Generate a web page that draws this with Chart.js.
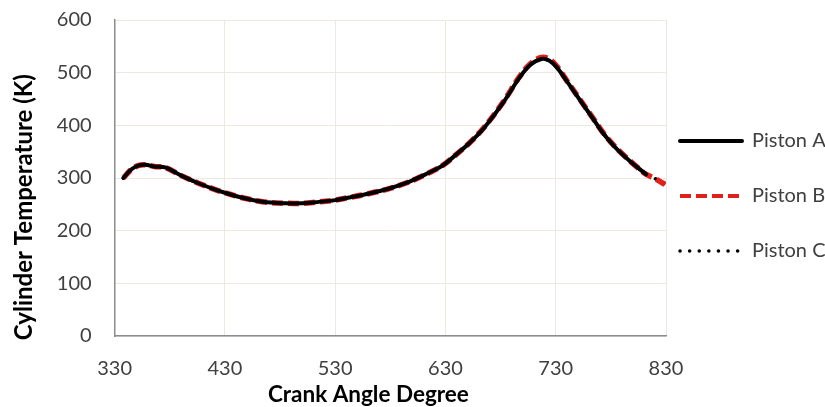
<!DOCTYPE html>
<html>
<head>
<meta charset="utf-8">
<script src="https://cdn.jsdelivr.net/npm/chart.js@4"></script>
<style>
  html, body { margin: 0; padding: 0; background: #ffffff; }
  #wrap { width: 825px; height: 407px; position: relative; }
</style>
</head>
<body>
<div id="wrap"><canvas id="c" width="825" height="407"></canvas></div>
<script>
// Crank angle (degrees)
const crankAngle = [338, 345, 352, 358, 366, 376, 390, 406, 420, 430, 445, 464, 485, 500, 512, 530, 543, 560, 579, 595, 609, 620, 629, 640, 652, 665, 682, 697, 707, 717, 724, 731, 740, 752, 763, 773, 784, 794, 803, 812, 820, 829];
// Cylinder temperature (K)
const pistonA = [300, 316, 324, 325, 322, 320, 305, 290, 279, 272, 263, 255, 252, 252, 254, 258, 263, 270, 280, 291, 304, 315, 326, 345, 367, 395, 442, 490, 515, 526, 523, 510, 484, 448, 415, 385, 358, 338, 322, 307, null, null];
const pistonB = [300, 316, 324, 325, 322, 320, 305, 290, 279, 272, 263, 255, 252, 252, 254, 258, 263, 270, 280, 291, 304, 315, 326, 345, 367, 396, 443, 492, 517, 529, 526, 512, 485, 449, 416, 386, 359, 339, 322, 307, 299, 288];
const pistonC = [300, 316, 324, 325, 322, 320, 305, 290, 279, 272, 263, 255, 252, 252, 254, 258, 263, 270, 280, 291, 304, 315, 326, 345, 367, 395, 442, 490, 515, 526, 523, 510, 484, 448, 415, 385, 358, 338, 322, 307, 299, 288];
const seriesNames = ['Piston A', 'Piston B', 'Piston C'];
const xTicks = [330, 430, 530, 630, 730, 830];
const yTicks = [0, 100, 200, 300, 400, 500, 600];
const xTitle = 'Crank Angle Degree';
const yTitle = 'Cylinder Temperature (K)';

function toXY(values) {
  const out = [];
  for (let i = 0; i < crankAngle.length; i++) {
    if (values[i] !== null) out.push({ x: crankAngle[i], y: values[i] });
  }
  return out;
}

const FONT = 'Lato, "Open Sans", "DejaVu Sans", sans-serif';

// nudges the legend block so its samples start just right of the plot area
const legendNudge = {
  id: 'legendNudge',
  afterLayout(chart) {
    const lg = chart.legend;
    if (!lg) return;
    lg.left -= 21;
    lg.top -= 15;
  }
};

new Chart(document.getElementById('c'), {
  type: 'line',
  data: {
    datasets: [
      {
        label: seriesNames[0],
        data: toXY(pistonA),
        borderColor: '#000000',
        backgroundColor: '#000000',
        borderWidth: 4,
        borderCapStyle: 'round',
        pointRadius: 0,
        tension: 0.35,
        fill: false
      },
      {
        label: seriesNames[1],
        data: toXY(pistonB),
        borderColor: '#e0201b',
        backgroundColor: '#ffffff',
        borderWidth: 5.5,
        borderDash: [11, 5],
        borderCapStyle: 'butt',
        pointRadius: 0,
        tension: 0.35,
        fill: false
      },
      {
        label: seriesNames[2],
        data: toXY(pistonC),
        borderColor: '#000000',
        backgroundColor: '#000000',
        borderWidth: 3.5,
        borderDash: [0.1, 9.5],
        borderCapStyle: 'round',
        pointRadius: 0,
        tension: 0.35,
        fill: false
      }
    ]
  },
  options: {
    responsive: false,
    animation: false,
    layout: { padding: { left: 0, right: 0, top: 0, bottom: 0 } },
    plugins: {
      tooltip: { enabled: false },
      legend: {
        position: 'right',
        align: 'center',
        maxWidth: 159,
        labels: {
          font: { family: FONT, size: 20 },
          color: '#404040',
          usePointStyle: true,
          pointStyle: 'line',
          pointStyleWidth: 62,
          padding: 35,
          generateLabels: (chart) => {
            const items = Chart.defaults.plugins.legend.labels.generateLabels(chart);
            items.forEach((it) => {
              const ds = chart.data.datasets[it.datasetIndex];
              it.pointStyle = 'line';
              it.strokeStyle = ds.borderColor;
              it.fillStyle = ds.borderColor;
              it.lineWidth = it.datasetIndex === 1 ? 4 : ds.borderWidth;
              it.lineDash = ds.borderDash || [];
              it.lineCap = ds.borderCapStyle;
            });
            return items;
          }
        }
      }
    },
    scales: {
      x: {
        type: 'linear',
        min: 330,
        max: 830,
        afterBuildTicks: (axis) => { axis.ticks = xTicks.map(v => ({ value: v })); },
        grid: { color: '#ede9e0', lineWidth: 1, drawTicks: true, tickLength: 16, tickColor: 'rgba(0,0,0,0)' },
        border: { color: '#8c8c8c', width: 1.5 },
        ticks: {
          font: { family: FONT, size: 20, lineHeight: 1 },
          color: '#404040',
          padding: 7,
          maxRotation: 0
        },
        title: {
          display: true,
          text: xTitle + '        ',
          font: { family: FONT, size: 22.5, weight: 'bold', lineHeight: 0.8 },
          color: '#000000',
          padding: { top: 0, bottom: 3 }
        }
      },
      y: {
        min: 0,
        max: 600,
        afterBuildTicks: (axis) => { axis.ticks = yTicks.map(v => ({ value: v })); },
        grid: { color: '#ede9e0', lineWidth: 1, drawTicks: true, tickLength: 15, tickColor: 'rgba(0,0,0,0)' },
        border: { color: '#8c8c8c', width: 1.5 },
        ticks: {
          font: { family: FONT, size: 20 },
          color: '#404040',
          padding: 8
        },
        title: {
          display: true,
          text: yTitle + '          ',
          font: { family: FONT, size: 24, weight: 'bold', lineHeight: 1.2 },
          color: '#000000',
          padding: { top: 10, bottom: 10 }
        }
      }
    }
  },
  plugins: [legendNudge]
});
</script>
</body>
</html>
